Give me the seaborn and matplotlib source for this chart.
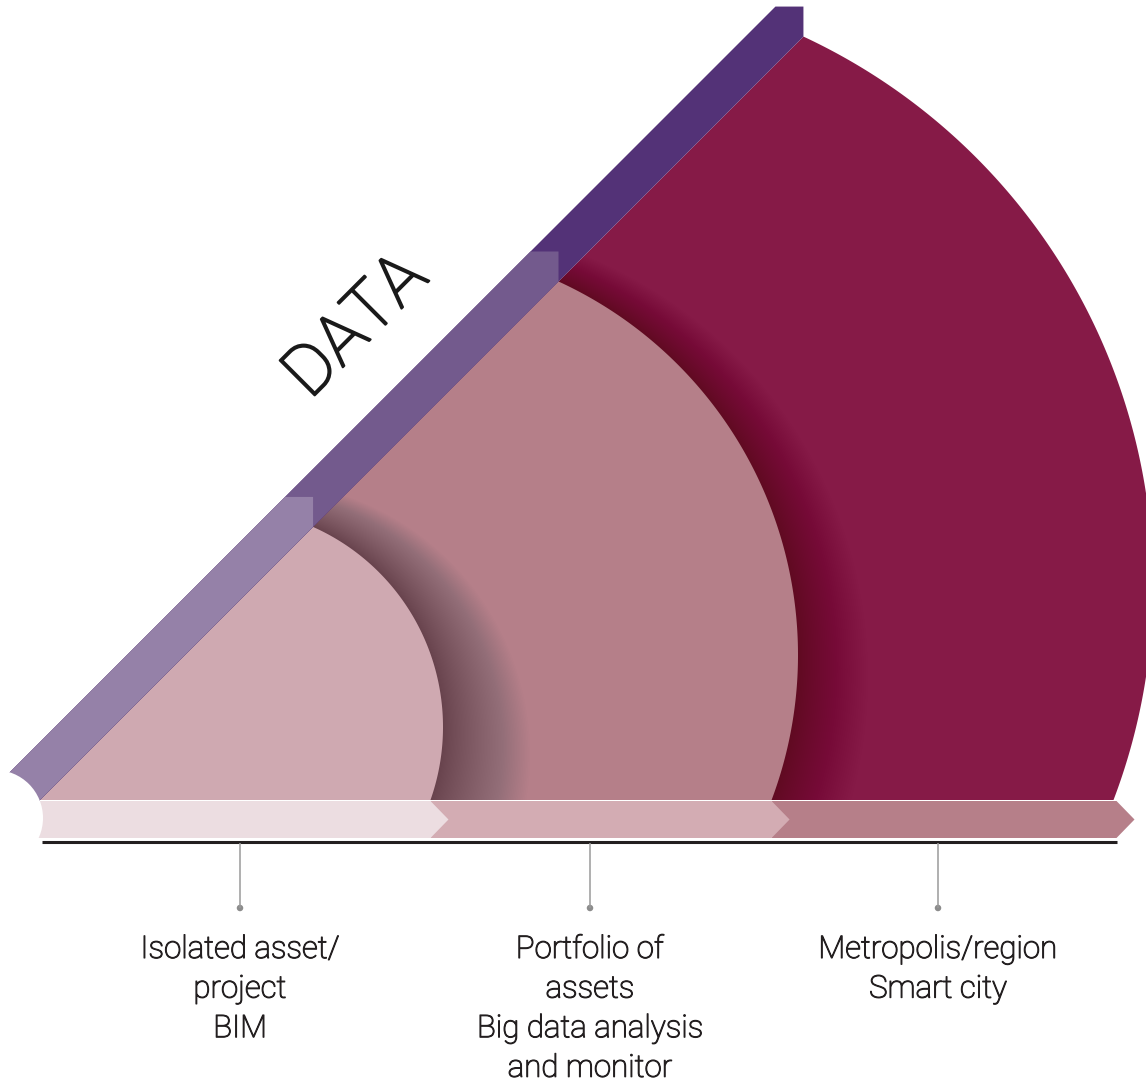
import numpy as np
import matplotlib
matplotlib.use('Agg')
import matplotlib.pyplot as plt
import matplotlib.patheffects as pe
from matplotlib.patches import Polygon, Circle
import seaborn as sns

# Stage labels under the axis (one entry per line)
stage_lines = [
    ['Isolated asset/', 'project', 'BIM'],
    ['Portfolio of', 'assets', 'Big data analysis', 'and monitor'],
    ['Metropolis/region', 'Smart city'],
]
tick_x = [240, 590, 938]

# Each stage wedge is bounded by a circular arc (centre, radius) in pixel units
arc_cx = [224, 387, 548]
arc_cy = [727, 655, 585]
arc_r = [219, 411, 605]

wedge_colors = ['#cfa9b1', '#b57f89', '#861a47']
band_colors = ['#9581a8', '#735a8d', '#533277']
bar_colors = ['#ecdde1', '#d3acb3', '#b67f89']

# shadow cast by wedge i onto the next one: growth, shift x, shift y, layer count
shadow_grow = [55, 44]
shadow_dx = [32, 26]
shadow_dy = [28, 22]
shadow_layers = [60, 38]
shadow_colors = ['#140a18', '#140a1c']

W, H = 1146, 1082
BASE_Y = 800      # bottom of the wedges
DIAG = 840        # inner edge of the purple band: x + y = DIAG
BAND_W = 58       # band thickness measured as x + y offset
BAR_TOP, BAR_BOT = 801, 838
AXIS_Y = 842
TIP = 18
ORIGIN = (40, BASE_Y)


def arc_ends(cx, cy, r):
    xb = cx + np.sqrt(r ** 2 - (BASE_Y - cy) ** 2)
    d = DIAG - cy
    a, b, c = 2.0, -2.0 * (cx + d), cx ** 2 + d ** 2 - r ** 2
    xt = (-b + np.sqrt(b * b - 4 * a * c)) / (2 * a)
    return xt, DIAG - xt, xb


def wedge_points(cx, cy, r):
    xt, yt, xb = arc_ends(cx, cy, r)
    th = np.linspace(np.arctan2(yt - cy, xt - cx), np.arctan2(BASE_Y - cy, xb - cx), 300)
    arc = np.column_stack([cx + r * np.cos(th), cy + r * np.sin(th)])
    return np.vstack([[ORIGIN], arc, [(xb, BASE_Y)]])


sns.set_theme(style='white')
plt.rcParams['font.family'] = ['Roboto', 'DejaVu Sans']

fig = plt.figure(figsize=(W / 100, H / 100), dpi=100)
ax = fig.add_axes([0, 0, 1, 1])
ax.set_xlim(0, W)
ax.set_ylim(H, 0)
ax.axis('off')

# wedges from the largest to the smallest, with a soft shadow cast by the inner one
for i in [2, 1, 0]:
    wp = Polygon(wedge_points(arc_cx[i], arc_cy[i], arc_r[i]), closed=True,
                 facecolor=wedge_colors[i], edgecolor='none')
    ax.add_patch(wp)
    if i > 0:
        j = i - 1
        n = shadow_layers[j]
        for k in range(n):
            f = ((k + 1) / n) ** 1.15
            c = Circle((arc_cx[j] + shadow_dx[j] * f, arc_cy[j] + shadow_dy[j] * f),
                       arc_r[j] + shadow_grow[j] * f,
                       facecolor=shadow_colors[j], edgecolor='none', alpha=2 / 255)
            ax.add_patch(c)
            c.set_clip_path(wp)

# purple "DATA" band, drawn outermost segment first
for i in [2, 1, 0]:
    xt, yt, _ = arc_ends(arc_cx[i], arc_cy[i], arc_r[i])
    top_y = yt - 30
    pts = [(DIAG - 812, 812), (xt, yt), (xt, top_y),
           (DIAG - BAND_W - top_y, top_y), (DIAG - BAND_W - 812, 812)]
    ax.add_patch(Polygon(pts, closed=True, facecolor=band_colors[i], edgecolor='none'))

# chevron bar under the wedges
ends = [arc_ends(arc_cx[i], arc_cy[i], arc_r[i])[2] for i in range(3)]
ends[-1] += 3
starts = [20] + ends[:-1]
mid = (BAR_TOP + BAR_BOT) / 2
for i in [2, 1, 0]:
    x0, x1 = starts[i], ends[i]
    pts = [(x0, BAR_TOP), (x1, BAR_TOP), (x1 + TIP, mid), (x1, BAR_BOT), (x0, BAR_BOT)]
    ax.add_patch(Polygon(pts, closed=True, facecolor=bar_colors[i], edgecolor='none'))

# concave bite at the left end
ax.add_patch(Circle((-5, 818), 48, facecolor='white', edgecolor='none'))

ax.plot([42, ends[2]], [AXIS_Y, AXIS_Y], color='#231f20', lw=2.2, solid_capstyle='butt')

# ticks with dots
ax.vlines(tick_x, AXIS_Y + 1, 908, color='#9a9a9a', lw=1.1)
sns.scatterplot(x=tick_x, y=[908] * len(tick_x), ax=ax, color='#8c8c8c', s=22,
                edgecolor='none', legend=False)

for x, lines in zip(tick_x, stage_lines):
    for k, line in enumerate(lines):
        ax.text(x, 958 + 39.6 * k, line, ha='center', va='baseline', fontsize=22.5,
                fontweight='light', color='#231f20',
                path_effects=[pe.withStroke(linewidth=0.8, foreground='#231f20')])

ax.text(370, 340, 'DATA', rotation=45, rotation_mode='anchor', ha='center',
        va='baseline', fontsize=50, fontweight='light', color='#1a1a1a',
        path_effects=[pe.withStroke(linewidth=1.6, foreground='#1a1a1a')])

ax.set_xlim(0, W)
ax.set_ylim(H, 0)
fig.savefig('out.png', dpi=100)
plt.close(fig)
